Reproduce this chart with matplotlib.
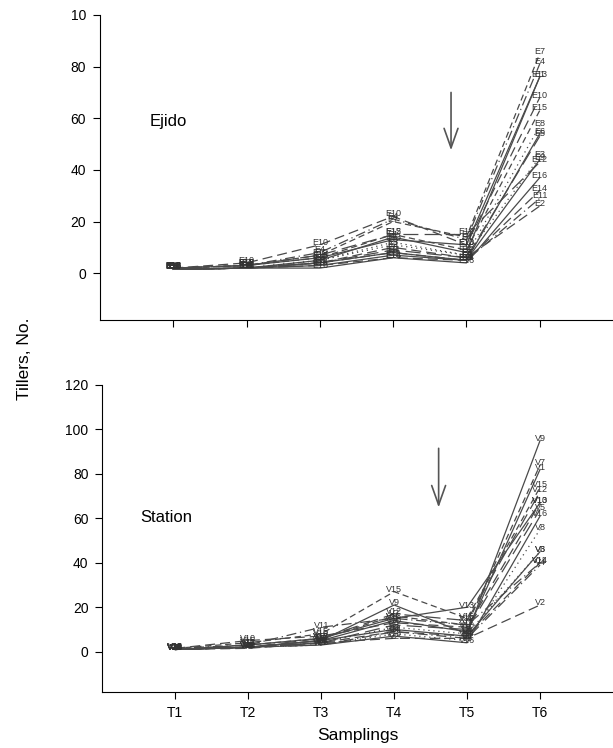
"""
Tiller counts per plant over six samplings, Ejido vs Station sites.
"""

import matplotlib
matplotlib.use("Agg")
import matplotlib.pyplot as plt

plt.rcParams["font.family"] = ["Liberation Sans", "DejaVu Sans"]

samplings = ["T1", "T2", "T3", "T4", "T5", "T6"]

# Ejido plants E1..E16
ejido_names = [f"E{i}" for i in range(1, 17)]
ejido = [
    [1.5, 2, 5, 14, 8, 76],
    [1.5, 2, 4, 10, 6, 26],
    [1.5, 2, 5, 11, 7, 45],
    [2, 3, 8, 21, 13, 81],
    [1.5, 2, 4, 9, 6, 53],
    [1.5, 2, 4, 8, 5, 54],
    [2, 3, 7, 20, 14, 85],
    [1.5, 2, 5, 12, 7, 57],
    [1.5, 2, 3, 7, 5, 44],
    [2, 4, 11, 22, 11, 68],
    [1.5, 2, 4, 8, 5, 29],
    [2, 3, 7, 15, 15, 43],
    [2, 3, 6, 13, 11, 76],
    [1.5, 2, 3, 6, 5, 32],
    [2, 3, 6, 15, 9, 63],
    [1.5, 2, 2, 6, 4, 37],
]

# Station plants V1..V16
station_names = [f"V{i}" for i in range(1, 17)]
station = [
    [1, 2, 5, 14, 9, 82],
    [1, 1.5, 4, 6, 6, 21],
    [1, 2, 4, 11, 8, 45],
    [1, 2, 3, 9, 6, 39],
    [1, 2, 4, 12, 10, 64],
    [1, 2, 5, 10, 7, 45],
    [1, 3, 6, 16, 12, 84],
    [1, 2, 3, 8, 5, 55],
    [1, 2, 5, 21, 8, 95],
    [1.5, 5, 7, 13, 11, 67],
    [1.5, 3, 11, 15, 12, 40],
    [1, 2, 6, 17, 14, 72],
    [1, 3, 6, 15, 20, 67],
    [1, 2, 4, 9, 7, 40],
    [1.5, 4, 8, 27, 15, 74],
    [1, 2, 3, 7, 4, 61],
]

styles = ["-", (0, (8, 4)), (0, (1, 3)), (0, (8, 3, 1, 3)), (0, (12, 5)), "-",
          (0, (5, 3)), (0, (1, 3)), "-", (0, (8, 4)), (0, (8, 3, 1, 3)),
          (0, (12, 5)), "-", (0, (8, 4)), (0, (5, 3)), "-"]

GREY = "#4a4a4a"


def draw_panel(ax, names, rows, ylim, yticks, ticklabels, title, title_xy,
               arrow_x, arrow_y):
    x = list(range(1, len(samplings) + 1))
    for i, (name, vals) in enumerate(zip(names, rows)):
        ax.plot(x, vals, color=GREY, lw=0.9, ls=styles[i % len(styles)])
        for xi, v in zip(x, vals):
            ax.text(xi, v + 1, name, fontsize=6.5, color="#333333",
                    ha="center", va="center")
    ax.set_xlim(0, 7)
    ax.set_ylim(*ylim)
    ax.set_yticks(yticks)
    ax.set_yticklabels(ticklabels, fontsize=10)
    ax.set_xticks(x)
    ax.spines["top"].set_visible(False)
    ax.spines["right"].set_visible(False)
    ax.tick_params(direction="out", length=5, width=0.8, pad=5)
    ax.text(title_xy[0], title_xy[1], title, fontsize=12, ha="left", va="center")
    ax.annotate("", xy=(arrow_x, arrow_y[1]), xytext=(arrow_x, arrow_y[0]),
                arrowprops=dict(arrowstyle="->,head_length=1.4,head_width=0.5",
                                color="#555555", lw=1.2, shrinkA=0, shrinkB=0))


fig = plt.figure(figsize=(6.13, 7.48), dpi=100)
ax1 = fig.add_axes([0.1631, 0.5722, 0.8369, 0.4078])
ax2 = fig.add_axes([0.1669, 0.0753, 0.8331, 0.4100])

draw_panel(ax1, ejido_names, ejido, (-18.1, 100), [0, 20, 40, 60, 80, 100],
           ["0", "20", "40", "60", "80", "10"], "Ejido", (0.68, 58.6),
           4.79, (70, 47.6))
ax1.set_xticklabels([])

draw_panel(ax2, station_names, station, (-18, 120), [0, 20, 40, 60, 80, 100, 120],
           ["0", "20", "40", "60", "80", "100", "120"], "Station", (0.52, 60.6),
           4.61, (91.5, 64.9))
ax2.set_xticklabels(samplings, fontsize=10)
ax2.set_xlabel("Samplings", fontsize=12.5, labelpad=6)

fig.text(0.04, 0.52, "Tillers, No.", rotation=90, fontsize=12.5,
         ha="center", va="center")

fig.savefig("out.png", dpi=100)
